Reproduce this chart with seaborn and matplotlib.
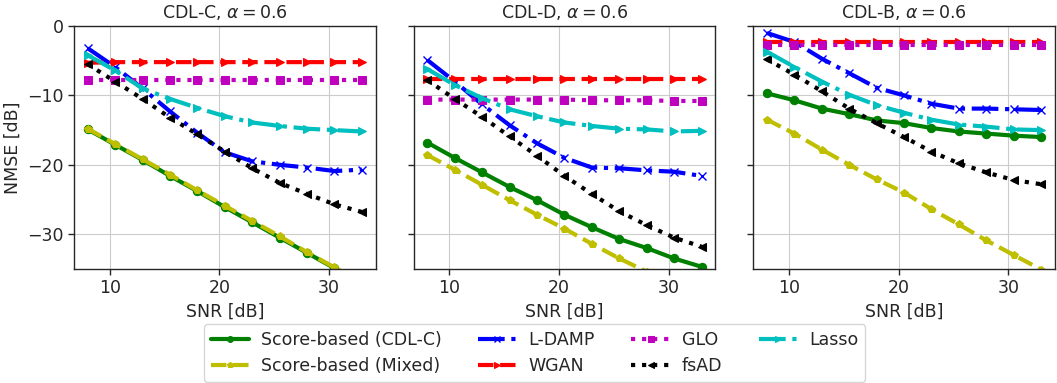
import matplotlib
matplotlib.use("Agg")
import matplotlib.pyplot as plt
import numpy as np
import pandas as pd
import seaborn as sns

snr = [8, 10.5, 13, 15.5, 18, 20.5, 23, 25.5, 28, 30.5, 33]
panels = ["CDL-C", "CDL-D", "CDL-B"]
methods = ["Score-based (CDL-C)", "Score-based (Mixed)", "L-DAMP", "WGAN", "GLO", "fsAD", "Lasso"]

# NMSE [dB], one list per method and panel
nmse_cdlc = {
    "Score-based (CDL-C)": [-14.9, -17.1, -19.3, -21.6, -23.8, -26.1, -28.3, -30.5, -32.7, -34.9, -37.1],
    "Score-based (Mixed)": [-14.8, -17.0, -19.2, -21.4, -23.7, -25.9, -28.1, -30.3, -32.6, -34.8, -37.0],
    "L-DAMP": [-3.2, -5.9, -9.0, -12.3, -15.4, -18.2, -19.5, -20.0, -20.4, -20.9, -20.7],
    "WGAN": [-5.3, -5.2, -5.2, -5.2, -5.2, -5.2, -5.2, -5.2, -5.2, -5.2, -5.2],
    "GLO": [-7.8, -7.8, -7.8, -7.8, -7.8, -7.8, -7.8, -7.8, -7.8, -7.8, -7.8],
    "fsAD": [-5.5, -8.0, -10.5, -13.2, -15.6, -18.1, -20.5, -22.6, -24.2, -25.7, -26.8],
    "Lasso": [-4.2, -6.4, -9.0, -10.5, -11.8, -13.0, -13.9, -14.4, -14.8, -15.0, -15.2],
}
nmse_cdld = {
    "Score-based (CDL-C)": [-16.8, -19.0, -21.1, -23.2, -25.1, -27.2, -29.0, -30.7, -32.0, -33.5, -34.7],
    "Score-based (Mixed)": [-18.6, -20.7, -22.9, -25.1, -27.2, -29.2, -31.4, -33.5, -35.4, -37.3, -39.2],
    "L-DAMP": [-4.9, -8.0, -11.3, -14.3, -16.9, -19.0, -20.4, -20.5, -20.8, -21.0, -21.6],
    "WGAN": [-7.6, -7.6, -7.6, -7.6, -7.6, -7.6, -7.6, -7.6, -7.6, -7.6, -7.6],
    "GLO": [-10.6, -10.6, -10.6, -10.6, -10.6, -10.6, -10.7, -10.7, -10.7, -10.8, -10.8],
    "fsAD": [-7.8, -10.5, -13.1, -15.9, -18.7, -21.6, -24.2, -26.7, -28.7, -30.5, -31.8],
    "Lasso": [-6.2, -8.5, -10.4, -12.0, -13.0, -13.9, -14.4, -14.8, -14.9, -15.2, -15.1],
}
nmse_cdlb = {
    "Score-based (CDL-C)": [-9.7, -10.7, -11.9, -12.7, -13.6, -14.0, -14.7, -15.2, -15.5, -15.8, -16.0],
    "Score-based (Mixed)": [-13.5, -15.5, -17.8, -20.0, -22.1, -24.0, -26.4, -28.6, -30.9, -33.0, -35.1],
    "L-DAMP": [-1.0, -2.3, -4.7, -6.8, -8.9, -10.0, -11.2, -11.9, -11.9, -12.0, -12.1],
    "WGAN": [-2.3, -2.3, -2.3, -2.3, -2.3, -2.3, -2.3, -2.3, -2.3, -2.3, -2.3],
    "GLO": [-2.7, -2.7, -2.7, -2.7, -2.7, -2.7, -2.7, -2.7, -2.7, -2.7, -2.7],
    "fsAD": [-4.8, -7.0, -9.4, -11.9, -14.0, -16.0, -18.1, -19.8, -21.1, -22.2, -22.8],
    "Lasso": [-3.7, -5.9, -8.0, -9.9, -11.4, -12.5, -13.5, -14.2, -14.5, -14.9, -15.0],
}
alpha = 0.6

styles = {
    "Score-based (CDL-C)": dict(color="g", linestyle="-", marker="o", markersize=6),
    "Score-based (Mixed)": dict(color="y", linestyle="--", marker="p", markersize=6),
    "L-DAMP": dict(color="b", linestyle="-.", marker="x", markersize=6, markeredgewidth=1),
    "WGAN": dict(color="r", linestyle="--", marker=">", markersize=6),
    "GLO": dict(color="m", linestyle=":", marker="s", markersize=6),
    "fsAD": dict(color="k", linestyle=":", marker="<", markersize=6),
    "Lasso": dict(color="c", linestyle="-.", marker=">", markersize=6),
}

sns.set_style("whitegrid", {"axes.edgecolor": "0.15", "grid.color": "0.8",
                            "xtick.bottom": True, "ytick.left": True})
plt.rcParams["font.family"] = ["DejaVu Sans"]
plt.rcParams["mathtext.fontset"] = "dejavusans"
fs = 12.5

fig, axes = plt.subplots(1, 3, figsize=(10.57, 3.83), dpi=100, sharey=True)
for ax, name, data in zip(axes, panels, [nmse_cdlc, nmse_cdld, nmse_cdlb]):
    for m in methods:
        df = pd.DataFrame({"snr": snr, "nmse": data[m]})
        st = styles[m]
        sns.lineplot(data=df, x="snr", y="nmse", ax=ax, label=m, linewidth=3,
                     markeredgecolor=st["color"], legend=False, **st)
    ax.set_title(f"{name}, $\\alpha = {alpha}$", fontsize=fs)
    ax.set_xlabel("SNR [dB]", fontsize=fs)
    ax.set_ylabel("")
    ax.set_xticks([10, 20, 30])
    ax.set_ylim(-35, 0)
    ax.tick_params(labelsize=fs, length=4, width=1, color="0.15")
    for s in ax.spines.values():
        s.set_linewidth(1)
axes[0].set_yticks([0, -10, -20, -30])
axes[0].set_ylabel("NMSE [dB]", fontsize=fs)

handles, labels = axes[0].get_legend_handles_labels()
fig.legend(handles, labels, loc="lower center", bbox_to_anchor=(0.5057, 0.003), ncol=4,
           fontsize=fs, frameon=True, handlelength=2.2, columnspacing=2.1,
           handletextpad=0.7, borderpad=0.4, labelspacing=0.45, markerscale=0.7,
           borderaxespad=0)
fig.subplots_adjust(left=0.070, right=0.998, top=0.932, bottom=0.298, wspace=0.126)
fig.savefig("out.png", dpi=100)
